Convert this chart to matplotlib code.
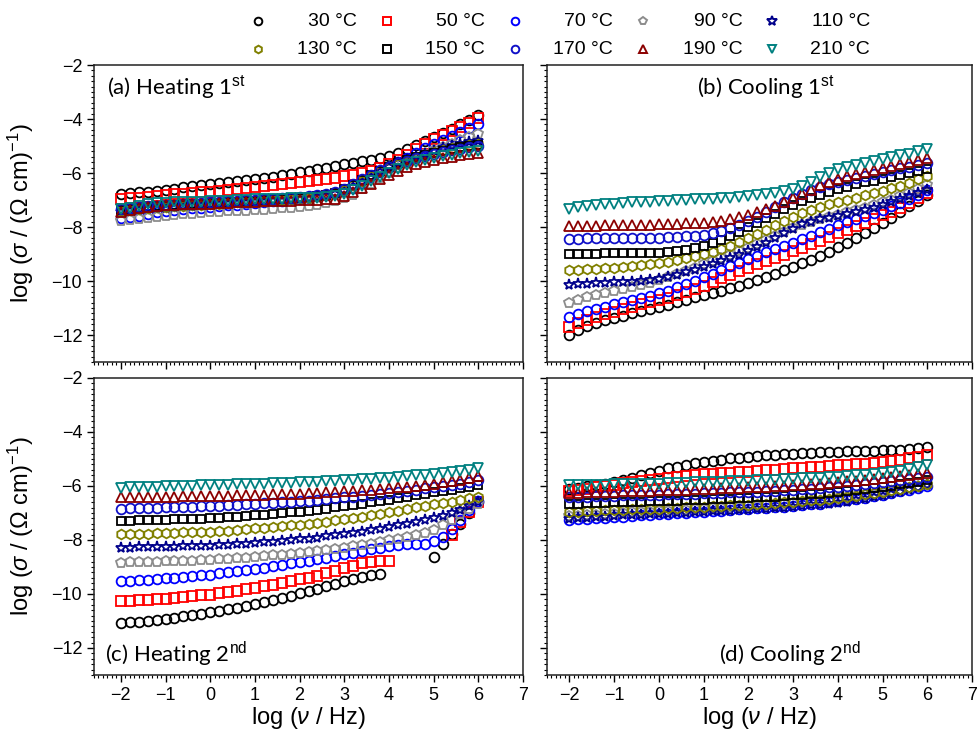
import numpy as np
import matplotlib
matplotlib.use("Agg")
import matplotlib.pyplot as plt
from matplotlib.lines import Line2D
from matplotlib.ticker import MultipleLocator

plt.rcParams["font.family"] = ["Liberation Sans", "DejaVu Sans"]
plt.rcParams["mathtext.fontset"] = "custom"
plt.rcParams["mathtext.rm"] = "Liberation Sans"
plt.rcParams["mathtext.it"] = "Liberation Sans:italic"

# log(frequency / Hz), 5 points per decade
LOG_FREQ = [-2.0, -1.8, -1.6, -1.4, -1.2, -1.0, -0.8, -0.6, -0.4, -0.2,
            0.0, 0.2, 0.4, 0.6, 0.8, 1.0, 1.2, 1.4, 1.6, 1.8,
            2.0, 2.2, 2.4, 2.6, 2.8, 3.0, 3.2, 3.4, 3.6, 3.8,
            4.0, 4.2, 4.4, 4.6, 4.8, 5.0, 5.2, 5.4, 5.6, 5.8,
            6.0]

TEMP_LABELS = ["30 °C", "50 °C", "70 °C", "90 °C", "110 °C",
               "130 °C", "150 °C", "170 °C", "190 °C", "210 °C"]
MARKERS = ["o", "s", "o", "p", "*", "h", "s", "o", "^", "v"]
COLORS = ["black", "#ff0000", "#0000ff", "#8c8c8c", "#00008b",
          "#808000", "black", "#1010c8", "#8b0000", "#008080"]
SIZES = [7, 6.5, 7, 7, 8, 7, 6, 7, 7, 7]

# (a) Heating 1st
heat1_030 = [-6.78, -6.75, -6.72, -6.69, -6.66, -6.62, -6.58, -6.53, -6.49, -6.45,
             -6.41, -6.38, -6.34, -6.30, -6.26, -6.22, -6.18, -6.13, -6.08, -6.03,
             -5.97, -5.91, -5.86, -5.80, -5.74, -5.68, -5.63, -5.57, -5.52, -5.45,
             -5.36, -5.25, -5.12, -4.98, -4.83, -4.67, -4.52, -4.36, -4.20, -4.03,
             -3.86]
heat1_050 = [-6.97, -6.94, -6.91, -6.88, -6.85, -6.82, -6.79, -6.76, -6.73, -6.71,
             -6.69, -6.67, -6.64, -6.60, -6.56, -6.52, -6.49, -6.46, -6.42, -6.38,
             -6.35, -6.31, -6.27, -6.22, -6.17, -6.12, -6.06, -5.99, -5.92, -5.80,
             -5.65, -5.50, -5.32, -5.12, -4.92, -4.74, -4.59, -4.44, -4.30, -4.13,
             -3.96]
heat1_070 = [-7.68, -7.63, -7.58, -7.52, -7.45, -7.39, -7.36, -7.33, -7.30, -7.28,
             -7.25, -7.23, -7.20, -7.18, -7.15, -7.12, -7.09, -7.05, -7.02, -6.98,
             -6.95, -6.91, -6.86, -6.81, -6.75, -6.66, -6.55, -6.36, -6.15, -5.96,
             -5.78, -5.60, -5.43, -5.26, -5.09, -4.93, -4.78, -4.63, -4.49, -4.35,
             -4.20]
heat1_090 = [-7.77, -7.73, -7.69, -7.65, -7.62, -7.59, -7.56, -7.53, -7.50, -7.48,
             -7.46, -7.44, -7.42, -7.41, -7.39, -7.38, -7.36, -7.34, -7.31, -7.28,
             -7.25, -7.22, -7.17, -7.11, -7.04, -6.93, -6.80, -6.60, -6.40, -6.20,
             -6.01, -5.83, -5.64, -5.47, -5.30, -5.15, -5.03, -4.91, -4.79, -4.67,
             -4.56]
heat1_110 = [-7.45, -7.40, -7.36, -7.33, -7.30, -7.28, -7.26, -7.24, -7.22, -7.20,
             -7.18, -7.16, -7.14, -7.12, -7.10, -7.08, -7.06, -7.04, -7.02, -7.00,
             -6.97, -6.94, -6.90, -6.85, -6.78, -6.66, -6.50, -6.32, -6.13, -5.95,
             -5.79, -5.64, -5.51, -5.39, -5.28, -5.18, -5.09, -5.01, -4.94, -4.87,
             -4.80]
heat1_130 = [-7.42, -7.37, -7.33, -7.30, -7.27, -7.25, -7.23, -7.21, -7.19, -7.17,
             -7.15, -7.13, -7.11, -7.09, -7.07, -7.05, -7.03, -7.01, -6.99, -6.97,
             -6.94, -6.91, -6.87, -6.82, -6.74, -6.62, -6.46, -6.29, -6.11, -5.94,
             -5.79, -5.66, -5.54, -5.43, -5.33, -5.24, -5.16, -5.09, -5.03, -4.97,
             -4.92]
heat1_150 = [-7.38, -7.34, -7.30, -7.27, -7.24, -7.22, -7.20, -7.18, -7.16, -7.14,
             -7.12, -7.10, -7.08, -7.06, -7.04, -7.02, -7.00, -6.98, -6.96, -6.94,
             -6.92, -6.89, -6.85, -6.80, -6.73, -6.61, -6.45, -6.27, -6.08, -5.91,
             -5.76, -5.63, -5.52, -5.42, -5.33, -5.25, -5.18, -5.11, -5.05, -5.00,
             -4.95]
heat1_170 = [-7.35, -7.31, -7.27, -7.24, -7.21, -7.19, -7.17, -7.15, -7.13, -7.11,
             -7.09, -7.07, -7.05, -7.03, -7.01, -6.99, -6.97, -6.95, -6.93, -6.91,
             -6.89, -6.86, -6.82, -6.77, -6.70, -6.58, -6.42, -6.24, -6.06, -5.90,
             -5.76, -5.64, -5.54, -5.45, -5.37, -5.29, -5.22, -5.16, -5.10, -5.05,
             -5.00]
heat1_190 = [-7.45, -7.37, -7.30, -7.25, -7.21, -7.19, -7.17, -7.16, -7.15, -7.14,
             -7.13, -7.12, -7.10, -7.08, -7.07, -7.06, -7.05, -7.04, -7.03, -7.02,
             -7.01, -7.00, -6.99, -6.97, -6.95, -6.86, -6.72, -6.56, -6.39, -6.23,
             -6.08, -5.93, -5.79, -5.67, -5.58, -5.50, -5.44, -5.39, -5.34, -5.29,
             -5.25]
heat1_210 = [-7.35, -7.28, -7.21, -7.16, -7.12, -7.10, -7.09, -7.08, -7.07, -7.06,
             -7.05, -7.04, -7.02, -7.00, -6.99, -6.98, -6.97, -6.96, -6.95, -6.94,
             -6.93, -6.92, -6.91, -6.89, -6.87, -6.78, -6.64, -6.48, -6.31, -6.15,
             -6.00, -5.85, -5.70, -5.58, -5.50, -5.43, -5.37, -5.32, -5.27, -5.22,
             -5.18]

# (b) Cooling 1st
cool1_030 = [-11.99, -11.83, -11.68, -11.57, -11.46, -11.36, -11.28, -11.20, -11.12, -11.04,
             -10.96, -10.88, -10.79, -10.70, -10.61, -10.53, -10.45, -10.36, -10.27, -10.17,
             -10.07, -9.96, -9.85, -9.73, -9.61, -9.48, -9.35, -9.21, -9.07, -8.91,
             -8.75, -8.58, -8.42, -8.24, -8.05, -7.85, -7.66, -7.45, -7.24, -7.02,
             -6.80]
cool1_050 = [-11.71, -11.56, -11.43, -11.33, -11.23, -11.13, -11.03, -10.95, -10.87, -10.79,
             -10.71, -10.62, -10.52, -10.42, -10.30, -10.17, -10.04, -9.90, -9.77, -9.64,
             -9.50, -9.37, -9.25, -9.14, -9.02, -8.90, -8.77, -8.64, -8.50, -8.37,
             -8.24, -8.10, -7.97, -7.84, -7.71, -7.57, -7.44, -7.28, -7.11, -6.93,
             -6.74]
cool1_070 = [-11.32, -11.21, -11.11, -11.03, -10.95, -10.87, -10.79, -10.71, -10.63, -10.55,
             -10.46, -10.36, -10.24, -10.12, -9.99, -9.86, -9.73, -9.59, -9.46, -9.33,
             -9.19, -9.06, -8.94, -8.82, -8.70, -8.58, -8.45, -8.32, -8.19, -8.06,
             -7.94, -7.82, -7.70, -7.59, -7.47, -7.36, -7.24, -7.11, -6.97, -6.80,
             -6.62]
cool1_090 = [-10.80, -10.70, -10.61, -10.53, -10.45, -10.38, -10.30, -10.22, -10.14, -10.06,
             -9.97, -9.86, -9.74, -9.62, -9.50, -9.38, -9.27, -9.15, -9.02, -8.89,
             -8.76, -8.63, -8.48, -8.33, -8.18, -8.04, -7.91, -7.80, -7.70, -7.62,
             -7.54, -7.46, -7.38, -7.29, -7.19, -7.09, -6.99, -6.87, -6.74, -6.59,
             -6.43]
cool1_110 = [-10.14, -10.12, -10.10, -10.08, -10.07, -10.05, -10.04, -10.02, -10.00, -9.97,
             -9.93, -9.86, -9.78, -9.68, -9.58, -9.48, -9.38, -9.27, -9.15, -9.02,
             -8.88, -8.74, -8.58, -8.41, -8.24, -8.07, -7.90, -7.80, -7.72, -7.65,
             -7.58, -7.51, -7.45, -7.37, -7.28, -7.18, -7.08, -6.98, -6.87, -6.75,
             -6.62]
cool1_130 = [-9.59, -9.58, -9.56, -9.54, -9.52, -9.50, -9.48, -9.45, -9.41, -9.38,
             -9.34, -9.28, -9.21, -9.14, -9.07, -8.99, -8.91, -8.82, -8.70, -8.56,
             -8.42, -8.27, -8.11, -7.94, -7.78, -7.62, -7.49, -7.37, -7.25, -7.15,
             -7.07, -6.99, -6.91, -6.83, -6.74, -6.66, -6.57, -6.47, -6.36, -6.24,
             -6.12]
cool1_150 = [-9.01, -9.00, -8.99, -8.99, -8.98, -8.98, -8.97, -8.97, -8.96, -8.96,
             -8.95, -8.93, -8.89, -8.84, -8.78, -8.70, -8.60, -8.48, -8.34, -8.18,
             -8.01, -7.84, -7.67, -7.50, -7.34, -7.19, -7.05, -6.92, -6.80, -6.69,
             -6.59, -6.50, -6.42, -6.35, -6.28, -6.21, -6.14, -6.07, -6.00, -5.93,
             -5.87]
cool1_170 = [-8.43, -8.43, -8.42, -8.42, -8.42, -8.41, -8.41, -8.41, -8.40, -8.40,
             -8.39, -8.38, -8.37, -8.35, -8.32, -8.28, -8.22, -8.14, -8.04, -7.92,
             -7.78, -7.62, -7.45, -7.27, -7.09, -6.92, -6.77, -6.64, -6.52, -6.42,
             -6.33, -6.25, -6.18, -6.11, -6.04, -5.97, -5.90, -5.83, -5.76, -5.69,
             -5.62]
cool1_190 = [-7.97, -7.96, -7.95, -7.95, -7.94, -7.93, -7.93, -7.92, -7.91, -7.91,
             -7.90, -7.89, -7.88, -7.87, -7.86, -7.84, -7.81, -7.76, -7.70, -7.63,
             -7.55, -7.46, -7.35, -7.22, -7.08, -6.94, -6.78, -6.62, -6.46, -6.33,
             -6.21, -6.11, -6.03, -5.96, -5.89, -5.82, -5.75, -5.67, -5.59, -5.51,
             -5.43]
cool1_210 = [-7.33, -7.27, -7.22, -7.18, -7.15, -7.13, -7.11, -7.09, -7.08, -7.06,
             -7.04, -7.03, -7.01, -7.00, -6.98, -6.97, -6.96, -6.94, -6.92, -6.89,
             -6.86, -6.83, -6.79, -6.74, -6.68, -6.59, -6.47, -6.32, -6.16, -6.01,
             -5.87, -5.77, -5.69, -5.62, -5.55, -5.49, -5.42, -5.35, -5.28, -5.19,
             -5.10]

# (c) Heating 2nd  (None = no point measured / dropped)
heat2_030 = [-11.06, -11.04, -11.02, -10.99, -10.96, -10.92, -10.88, -10.83, -10.78, -10.73,
             -10.68, -10.62, -10.56, -10.50, -10.43, -10.37, -10.30, -10.22, -10.14, -10.06,
             -9.98, -9.89, -9.80, -9.71, -9.62, -9.53, -9.45, -9.37, -9.30, -9.26,
             None, None, None, None, None, -8.63, -8.15, -7.78, -7.40, -7.00,
             -6.60]
heat2_050 = [-10.27, -10.25, -10.23, -10.21, -10.19, -10.17, -10.14, -10.11, -10.08, -10.05,
             -10.02, -9.98, -9.93, -9.88, -9.83, -9.78, -9.72, -9.66, -9.60, -9.53,
             -9.46, -9.39, -9.32, -9.24, -9.14, -9.04, -8.95, -8.87, -8.80, -8.76,
             -8.78, None, None, None, None, None, None, -7.80, -7.35, -6.95,
             -6.58]
heat2_070 = [-9.53, -9.51, -9.49, -9.47, -9.44, -9.42, -9.39, -9.36, -9.33, -9.31,
             -9.28, -9.24, -9.20, -9.16, -9.12, -9.07, -9.02, -8.97, -8.92, -8.87,
             -8.82, -8.77, -8.71, -8.65, -8.59, -8.53, -8.47, -8.41, -8.35, -8.28,
             -8.22, -8.18, -8.15, -8.14, -8.13, -8.05, -7.88, -7.60, -7.25, -6.90,
             -6.55]
heat2_090 = [-8.84, -8.83, -8.82, -8.81, -8.80, -8.79, -8.78, -8.77, -8.76, -8.75,
             -8.74, -8.72, -8.70, -8.68, -8.65, -8.62, -8.60, -8.57, -8.54, -8.51,
             -8.48, -8.45, -8.41, -8.37, -8.32, -8.28, -8.23, -8.18, -8.13, -8.07,
             -8.01, -7.95, -7.88, -7.82, -7.75, -7.62, -7.45, -7.25, -7.05, -6.85,
             -6.65]
heat2_110 = [-8.28, -8.28, -8.27, -8.27, -8.26, -8.25, -8.25, -8.24, -8.23, -8.22,
             -8.21, -8.19, -8.17, -8.15, -8.13, -8.10, -8.08, -8.06, -8.03, -8.01,
             -7.98, -7.95, -7.91, -7.87, -7.83, -7.79, -7.74, -7.69, -7.64, -7.58,
             -7.52, -7.46, -7.40, -7.33, -7.26, -7.19, -7.10, -7.00, -6.88, -6.75,
             -6.60]
heat2_130 = [-7.79, -7.78, -7.77, -7.76, -7.75, -7.74, -7.73, -7.72, -7.71, -7.70,
             -7.69, -7.67, -7.65, -7.62, -7.60, -7.57, -7.55, -7.52, -7.49, -7.46,
             -7.43, -7.40, -7.36, -7.32, -7.27, -7.23, -7.18, -7.13, -7.08, -7.02,
             -6.96, -6.91, -6.85, -6.79, -6.73, -6.68, -6.63, -6.58, -6.52, -6.46,
             -6.40]
heat2_150 = [-7.29, -7.28, -7.27, -7.26, -7.25, -7.25, -7.24, -7.23, -7.22, -7.21,
             -7.20, -7.18, -7.16, -7.14, -7.11, -7.09, -7.06, -7.04, -7.01, -6.98,
             -6.95, -6.92, -6.88, -6.84, -6.79, -6.75, -6.70, -6.65, -6.60, -6.55,
             -6.50, -6.45, -6.40, -6.35, -6.30, -6.24, -6.19, -6.14, -6.09, -6.03,
             -5.97]
heat2_170 = [-6.84, -6.83, -6.82, -6.81, -6.80, -6.79, -6.78, -6.77, -6.76, -6.75,
             -6.74, -6.73, -6.71, -6.70, -6.68, -6.66, -6.64, -6.62, -6.60, -6.58,
             -6.56, -6.54, -6.51, -6.48, -6.45, -6.42, -6.39, -6.36, -6.33, -6.29,
             -6.25, -6.21, -6.17, -6.13, -6.09, -6.05, -6.01, -5.96, -5.91, -5.85,
             -5.79]
heat2_190 = [-6.40, -6.40, -6.40, -6.39, -6.39, -6.39, -6.39, -6.38, -6.38, -6.38,
             -6.37, -6.37, -6.36, -6.35, -6.34, -6.33, -6.32, -6.31, -6.30, -6.29,
             -6.28, -6.27, -6.26, -6.24, -6.22, -6.20, -6.18, -6.16, -6.14, -6.11,
             -6.08, -6.05, -6.02, -5.99, -5.95, -5.91, -5.87, -5.82, -5.76, -5.70,
             -5.63]
heat2_210 = [-6.06, -6.05, -6.04, -6.03, -6.02, -6.01, -6.00, -5.99, -5.99, -5.98,
             -5.97, -5.96, -5.95, -5.94, -5.93, -5.92, -5.91, -5.90, -5.89, -5.88,
             -5.87, -5.86, -5.84, -5.83, -5.81, -5.79, -5.77, -5.75, -5.73, -5.71,
             -5.69, -5.67, -5.64, -5.61, -5.58, -5.55, -5.52, -5.48, -5.44, -5.39,
             -5.33]

# (d) Cooling 2nd
cool2_030 = [-6.10, -6.06, -6.01, -5.96, -5.91, -5.86, -5.78, -5.69, -5.60, -5.51,
             -5.43, -5.35, -5.28, -5.22, -5.16, -5.11, -5.06, -5.02, -4.98, -4.95,
             -4.92, -4.89, -4.86, -4.84, -4.82, -4.80, -4.78, -4.76, -4.75, -4.74,
             -4.73, -4.72, -4.71, -4.70, -4.69, -4.68, -4.67, -4.65, -4.62, -4.59,
             -4.56]
cool2_050 = [-6.20, -6.15, -6.10, -6.05, -6.00, -5.95, -5.90, -5.85, -5.81, -5.77,
             -5.73, -5.69, -5.66, -5.63, -5.60, -5.57, -5.55, -5.53, -5.51, -5.49,
             -5.47, -5.45, -5.42, -5.40, -5.38, -5.35, -5.33, -5.31, -5.28, -5.26,
             -5.24, -5.22, -5.20, -5.17, -5.14, -5.11, -5.07, -5.03, -4.98, -4.93,
             -4.87]
cool2_070 = [-7.25, -7.23, -7.21, -7.19, -7.17, -7.15, -7.13, -7.11, -7.09, -7.07,
             -7.05, -7.03, -7.01, -6.99, -6.97, -6.95, -6.93, -6.91, -6.89, -6.87,
             -6.85, -6.83, -6.81, -6.79, -6.77, -6.74, -6.71, -6.68, -6.65, -6.61,
             -6.57, -6.53, -6.48, -6.43, -6.38, -6.32, -6.26, -6.20, -6.13, -6.06,
             -5.99]
cool2_090 = [-7.12, -7.10, -7.08, -7.06, -7.04, -7.02, -7.00, -6.98, -6.97, -6.95,
             -6.94, -6.92, -6.90, -6.89, -6.87, -6.85, -6.83, -6.81, -6.79, -6.77,
             -6.75, -6.73, -6.71, -6.69, -6.66, -6.63, -6.60, -6.57, -6.54, -6.50,
             -6.46, -6.42, -6.38, -6.33, -6.28, -6.23, -6.18, -6.13, -6.07, -6.01,
             -5.95]
cool2_110 = [-7.21, -7.19, -7.17, -7.15, -7.13, -7.11, -7.09, -7.07, -7.06, -7.05,
             -7.03, -7.02, -7.00, -6.99, -6.97, -6.96, -6.94, -6.93, -6.91, -6.90,
             -6.88, -6.86, -6.84, -6.82, -6.80, -6.78, -6.75, -6.72, -6.69, -6.66,
             -6.62, -6.58, -6.53, -6.48, -6.42, -6.36, -6.29, -6.22, -6.14, -6.06,
             -5.98]
cool2_130 = [-6.96, -6.95, -6.93, -6.92, -6.90, -6.89, -6.88, -6.87, -6.86, -6.85,
             -6.84, -6.82, -6.81, -6.79, -6.78, -6.76, -6.75, -6.73, -6.72, -6.70,
             -6.69, -6.67, -6.65, -6.63, -6.61, -6.58, -6.56, -6.53, -6.50, -6.47,
             -6.44, -6.40, -6.36, -6.31, -6.26, -6.21, -6.16, -6.11, -6.05, -6.00,
             -5.94]
cool2_150 = [-6.66, -6.65, -6.64, -6.63, -6.62, -6.61, -6.60, -6.59, -6.58, -6.57,
             -6.56, -6.55, -6.54, -6.53, -6.52, -6.51, -6.49, -6.48, -6.47, -6.45,
             -6.44, -6.42, -6.41, -6.39, -6.37, -6.35, -6.33, -6.30, -6.28, -6.25,
             -6.22, -6.19, -6.16, -6.12, -6.08, -6.04, -5.99, -5.94, -5.89, -5.84,
             -5.79]
cool2_170 = [-6.41, -6.40, -6.39, -6.38, -6.37, -6.36, -6.35, -6.34, -6.34, -6.33,
             -6.32, -6.31, -6.30, -6.29, -6.28, -6.27, -6.26, -6.25, -6.24, -6.23,
             -6.22, -6.21, -6.19, -6.18, -6.16, -6.14, -6.12, -6.10, -6.08, -6.05,
             -6.02, -5.99, -5.96, -5.92, -5.88, -5.84, -5.80, -5.77, -5.74, -5.70,
             -5.67]
cool2_190 = [-6.26, -6.25, -6.24, -6.23, -6.22, -6.21, -6.20, -6.19, -6.18, -6.17,
             -6.16, -6.15, -6.14, -6.13, -6.12, -6.11, -6.10, -6.09, -6.07, -6.06,
             -6.05, -6.03, -6.02, -6.00, -5.99, -5.97, -5.95, -5.93, -5.91, -5.89,
             -5.86, -5.83, -5.80, -5.77, -5.73, -5.69, -5.66, -5.63, -5.59, -5.56,
             -5.52]
cool2_210 = [-5.98, -5.97, -5.96, -5.96, -5.95, -5.94, -5.93, -5.93, -5.92, -5.92,
             -5.91, -5.90, -5.89, -5.88, -5.87, -5.86, -5.85, -5.84, -5.82, -5.81,
             -5.80, -5.79, -5.78, -5.76, -5.75, -5.73, -5.72, -5.70, -5.69, -5.67,
             -5.65, -5.63, -5.61, -5.58, -5.55, -5.52, -5.48, -5.43, -5.37, -5.30,
             -5.24]

heat1 = [heat1_030, heat1_050, heat1_070, heat1_090, heat1_110,
         heat1_130, heat1_150, heat1_170, heat1_190, heat1_210]
cool1 = [cool1_030, cool1_050, cool1_070, cool1_090, cool1_110,
         cool1_130, cool1_150, cool1_170, cool1_190, cool1_210]
heat2 = [heat2_030, heat2_050, heat2_070, heat2_090, heat2_110,
         heat2_130, heat2_150, heat2_170, heat2_190, heat2_210]
cool2 = [cool2_030, cool2_050, cool2_070, cool2_090, cool2_110,
         cool2_130, cool2_150, cool2_170, cool2_190, cool2_210]

W, H, DPI = 979, 738, 100
fig = plt.figure(figsize=(W / DPI, H / DPI), dpi=DPI)

# axes boxes in pixels: left, top, right, bottom
boxes = {
    "a": (94, 65, 523, 362),
    "b": (547, 65, 972, 362),
    "c": (94, 378, 523, 675),
    "d": (547, 378, 972, 675),
}
xlims = {"a": (-2.6, 7), "b": (-2.5, 7), "c": (-2.6, 7), "d": (-2.5, 7)}
panel_data = {"a": heat1, "b": cool1, "c": heat2, "d": cool2}
titles = {
    "a": ("(a) Heating 1$^{\\mathrm{st}}$", 0.03, 0.925, "left"),
    "b": ("(b) Cooling 1$^{\\mathrm{st}}$", 0.515, 0.925, "center"),
    "c": ("(c) Heating 2$^{\\mathrm{nd}}$", 0.026, 0.07, "left"),
    "d": ("(d) Cooling 2$^{\\mathrm{nd}}$", 0.572, 0.07, "center"),
}

ylabel = "log ($\\sigma$ / (Ω cm)$^{-1}$)"
xlabel = "log ($\\nu$ / Hz)"

for key, (l, t, r, b) in boxes.items():
    ax = fig.add_axes([l / W, 1 - b / H, (r - l) / W, (b - t) / H])
    for vals, m, c, s in zip(panel_data[key], MARKERS, COLORS, SIZES):
        y = np.array(vals, dtype=float)
        ax.plot(LOG_FREQ, y, ls="none", marker=m, ms=s, mfc="none",
                mec=c, mew=1.3)
    ax.set_xlim(*xlims[key])
    ax.set_ylim(-13, -2)
    ax.xaxis.set_major_locator(MultipleLocator(1))
    ax.xaxis.set_minor_locator(MultipleLocator(0.1))
    ax.yaxis.set_major_locator(MultipleLocator(2))
    ax.yaxis.set_minor_locator(MultipleLocator(0.2))
    ax.tick_params(which="both", direction="out", top=False, right=False,
                   labelsize=13)
    ax.tick_params(which="major", length=5, width=1)
    ax.tick_params(which="minor", length=2.5, width=0.8)
    for sp in ax.spines.values():
        sp.set_linewidth(1.1)
        sp.set_color("#222222")
    if key in ("a", "b"):
        ax.tick_params(labelbottom=False)
    else:
        ax.set_xlabel(xlabel, fontsize=17)
        ax.xaxis.set_label_coords(0.5, -0.1)
    if key in ("b", "d"):
        ax.tick_params(labelleft=False)
    else:
        ax.set_ylabel(ylabel, fontsize=17)
        ax.yaxis.set_label_coords(-0.135, 0.5)
    txt, tx, ty, ha = titles[key]
    ax.text(tx, ty, txt, transform=ax.transAxes, ha=ha, va="center",
            fontsize=16, family=["Lato", "DejaVu Sans"])

# legend, two rows of five, drawn by hand to keep labels right-aligned
marker_x = [258, 387, 515, 643, 772]
label_right = [357, 485, 613, 743, 870]
row_y = [21, 49]
for i, (lab, m, c) in enumerate(zip(TEMP_LABELS, MARKERS, COLORS)):
    row, col = divmod(i, 5)
    yy = 1 - row_y[row] / H
    fig.add_artist(Line2D([marker_x[col] / W], [yy], transform=fig.transFigure,
                          marker=m, ms=5.5 if m != "*" else 7, mfc="none",
                          mec=c, mew=1.4, ls="none"))
    fig.text(label_right[col] / W, yy, lab, ha="right", va="center",
             fontsize=14)

fig.savefig("out.png", dpi=DPI)
